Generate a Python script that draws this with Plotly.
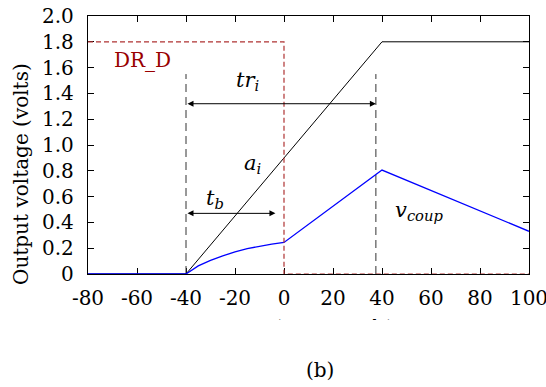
import plotly.graph_objects as go

# ---- data ----
t_ai = [-80, -40, 40, 100]
v_ai = [0, 0, 1.8, 1.8]

t_coup = [-80, -40, -35, -30, -25, -20, -15, -10, -5, 0, 40, 100]
v_coup = [0, 0, 0.063, 0.105, 0.14, 0.172, 0.197, 0.216, 0.232, 0.245, 0.806, 0.331]

t_drd = [-80, 0, 0, 100]
v_drd = [1.8, 1.8, 0, 0]

t_mark1 = [-40, -40]
t_mark2 = [37.5, 37.5]
v_mark = [0, 1.55]

x_ticks = [-80, -60, -40, -20, 0, 20, 40, 60, 80, 100]
x_ticktext = ["-80", "-60", "-40", "-20", "0", "20", "40", "60", "80", "100"]
y_ticks = [0, 0.2, 0.4, 0.6, 0.8, 1.0, 1.2, 1.4, 1.6, 1.8, 2.0]
y_ticktext = ["0", "0.2", "0.4", "0.6", "0.8", "1.0", "1.2", "1.4", "1.6", "1.8", "2.0"]

FONT = "DejaVu Serif"

fig = go.Figure()
fig.add_trace(go.Scatter(x=t_mark1, y=v_mark, mode="lines",
                         line=dict(color="#333333", width=1, dash="8px,5px")))
fig.add_trace(go.Scatter(x=t_mark2, y=v_mark, mode="lines",
                         line=dict(color="#333333", width=1, dash="8px,5px")))
fig.add_trace(go.Scatter(x=t_ai, y=v_ai, mode="lines",
                         line=dict(color="black", width=1)))
fig.add_trace(go.Scatter(x=t_coup, y=v_coup, mode="lines",
                         line=dict(color="#0000ff", width=1.3)))
fig.add_trace(go.Scatter(x=t_drd, y=v_drd, mode="lines",
                         line=dict(color="rgb(175,50,50)", width=1.2, dash="5px,3px")))

W, H = 546, 387
PL, PR, PT, PB = 88, 529, 16, 274          # plot area in screen pixels
L, R, T, B = PL, W - PR, PT, H - PB
pw = PR - PL
ph = PB - PT


def xp(px):
    return (px - PL) / pw


def yp(py):
    return (PB - py) / ph


annotations = [
    # arrows
    dict(x=37.5, y=1.32, ax=-40, ay=1.32, xref="x", yref="y", axref="x", ayref="y",
         text="", showarrow=True, arrowside="end+start", arrowhead=2, arrowsize=1.2,
         arrowwidth=1, arrowcolor="black", standoff=0, startstandoff=0),
    dict(x=-3.5, y=0.47, ax=-40, ay=0.47, xref="x", yref="y", axref="x", ayref="y",
         text="", showarrow=True, arrowside="end+start", arrowhead=2, arrowsize=1.2,
         arrowwidth=1, arrowcolor="black", standoff=0, startstandoff=0),
    # labels
    dict(x=-15, y=1.5, xref="x", yref="y", text="<i>tr</i><sub><i>i</i></sub>",
         showarrow=False, font=dict(family=FONT, size=21, color="black")),
    dict(x=-13, y=0.85, xref="x", yref="y", text="<i>a</i><sub><i>i</i></sub>",
         showarrow=False, font=dict(family=FONT, size=21, color="black")),
    dict(x=-28, y=0.585, xref="x", yref="y", text="<i>t</i><sub><i>b</i></sub>",
         showarrow=False, font=dict(family=FONT, size=21, color="black")),
    dict(x=55, y=0.49, xref="x", yref="y", text="<i>v</i><sub><i>coup</i></sub>",
         showarrow=False, font=dict(family=FONT, size=21, color="black")),
    dict(x=-57.8, y=1.66, xref="x", yref="y", text="DR_D",
         showarrow=False, font=dict(family=FONT, size=20, color="#990000")),
    # axis titles
    dict(x=xp(21), y=yp(174), xref="paper", yref="paper", text="Output voltage (volts)",
         textangle=-90, showarrow=False, xanchor="center", yanchor="middle",
         font=dict(family=FONT, size=20, color="black")),
    dict(x=xp(312), y=yp(326), xref="paper", yref="paper", text="time (picoseconds)",
         showarrow=False, xanchor="center", yanchor="middle",
         font=dict(family=FONT, size=17, color="black")),
    # white cover that clips the x-axis title as in the reference
    dict(x=xp(308), y=yp(320.5), xref="paper", yref="paper", text=" ", showarrow=False,
         xanchor="center", yanchor="top", width=460, height=34, bgcolor="white",
         borderpad=0, borderwidth=0),
    dict(x=xp(320), y=yp(370), xref="paper", yref="paper", text="(b)",
         showarrow=False, xanchor="center", yanchor="middle",
         font=dict(family=FONT, size=20, color="black")),
]

fig.update_layout(
    width=W, height=H,
    margin=dict(l=L, r=R, t=T, b=B, autoexpand=False),
    paper_bgcolor="white", plot_bgcolor="white",
    showlegend=False,
    annotations=annotations,
    font=dict(family=FONT, color="black"),
)
common = dict(ticks="inside", ticklen=6, tickcolor="black", tickwidth=1, showline=True,
              linecolor="black", linewidth=1.3, mirror="ticks", showgrid=False,
              zeroline=False, tickfont=dict(family=FONT, size=20, color="black"),
              layer="below traces", automargin=False, ticklabeloverflow="allow")
fig.update_xaxes(range=[-80, 100], tickvals=x_ticks, ticktext=x_ticktext,
                 ticklabelstandoff=6, **common)
fig.update_yaxes(range=[0, 2.0], tickvals=y_ticks, ticktext=y_ticktext,
                 ticklabelstandoff=9, **common)

fig.write_html("out.html", config={"displayModeBar": False},
               post_script="document.body.style.margin='0';document.body.style.overflow='hidden';")
